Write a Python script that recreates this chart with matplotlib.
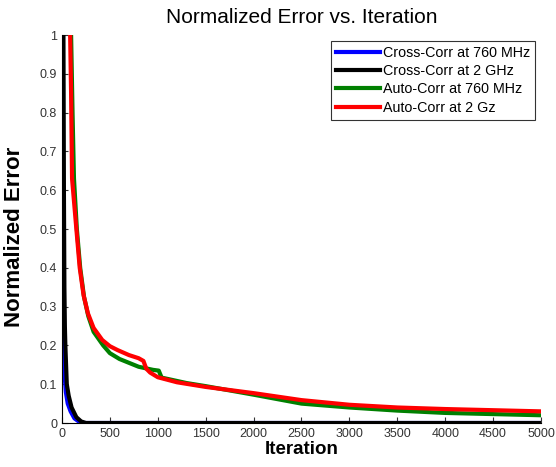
import matplotlib.pyplot as plt
import numpy as np

plt.rcParams['font.family'] = ['Liberation Sans', 'DejaVu Sans']

# Error normalizado frente a iteracion
iter_cross_760 = [0, 5, 10, 20, 40, 60, 90, 130, 180, 230, 5000]
err_cross_760 = [1.0, 0.6, 0.3, 0.15, 0.08, 0.05, 0.03, 0.012, 0.003, 0.0, 0.0]

iter_cross_2g = [15, 20, 25, 30, 35, 50, 70, 100, 150, 200, 250, 5000]
err_cross_2g = [1.0, 0.6, 0.35, 0.25, 0.2, 0.1, 0.07, 0.04, 0.015, 0.004, 0.0, 0.0]

iter_auto_760 = [60, 95, 110, 125, 155, 190, 230, 275, 330, 430, 500, 600, 700, 800,
                 950, 1010, 1040, 1300, 1500, 2000, 2500, 3000, 3500, 4000, 4500, 5000]
err_auto_760 = [1.2, 1.0, 0.8, 0.63, 0.5, 0.4, 0.325, 0.275, 0.235, 0.2, 0.18, 0.165, 0.155, 0.145,
                0.137, 0.135, 0.117, 0.103, 0.095, 0.073, 0.05, 0.04, 0.032, 0.026, 0.023, 0.02]

iter_auto_2g = [60, 85, 95, 105, 150, 185, 225, 270, 330, 420, 500, 580, 700, 800, 850,
                880, 920, 1000, 1200, 1500, 2000, 2500, 3000, 3500, 4000, 4500, 5000]
err_auto_2g = [1.2, 1.0, 0.85, 0.63, 0.5, 0.4, 0.33, 0.283, 0.245, 0.214, 0.198, 0.188, 0.175, 0.167, 0.16,
               0.14, 0.13, 0.118, 0.105, 0.093, 0.077, 0.059, 0.047, 0.04, 0.036, 0.033, 0.03]

fig = plt.figure(figsize=(5.56, 4.67), dpi=100)
ax = fig.add_axes([0.1115, 0.0942, 0.8615, 0.8308])

ancho = 3
ax.plot(iter_cross_760, err_cross_760, color='#0000ff', lw=ancho, label='Cross-Corr at 760 MHz')
ax.plot(iter_cross_2g, err_cross_2g, color='black', lw=ancho, label='Cross-Corr at 2 GHz')
ax.plot(iter_auto_760, err_auto_760, color='#008000', lw=ancho, label='Auto-Corr at 760 MHz')
ax.plot(iter_auto_2g, err_auto_2g, color='#ff0000', lw=ancho, label='Auto-Corr at 2 Gz')

ax.set_xlim(0, 5000)
ax.set_ylim(0, 1)
ax.set_xticks(np.arange(0, 5001, 500))
ax.set_yticks(np.arange(0, 1.01, 0.1))
ax.set_yticklabels(['0', '0.1', '0.2', '0.3', '0.4', '0.5', '0.6', '0.7', '0.8', '0.9', '1'])
ax.tick_params(direction='in', length=4, labelsize=9, colors='#333333', labelcolor='#333333')
ax.spines['top'].set_visible(False)
ax.spines['right'].set_visible(False)

ax.set_title('Normalized Error vs. Iteration', fontsize=15, pad=9)
ax.set_xlabel('Iteration', fontsize=13.5, fontweight='bold', labelpad=1)
ax.set_ylabel('Normalized Error', fontsize=16, fontweight='bold')
ax.yaxis.set_label_coords(-0.078, 0.48)

leg = ax.legend(loc='upper right', fontsize=10.3, handlelength=3.1, handletextpad=0.2,
                frameon=True, fancybox=False, edgecolor='black', borderaxespad=0.4,
                labelspacing=0.3, borderpad=0.35)
leg.get_frame().set_linewidth(0.8)

plt.savefig('out.png', dpi=100)
